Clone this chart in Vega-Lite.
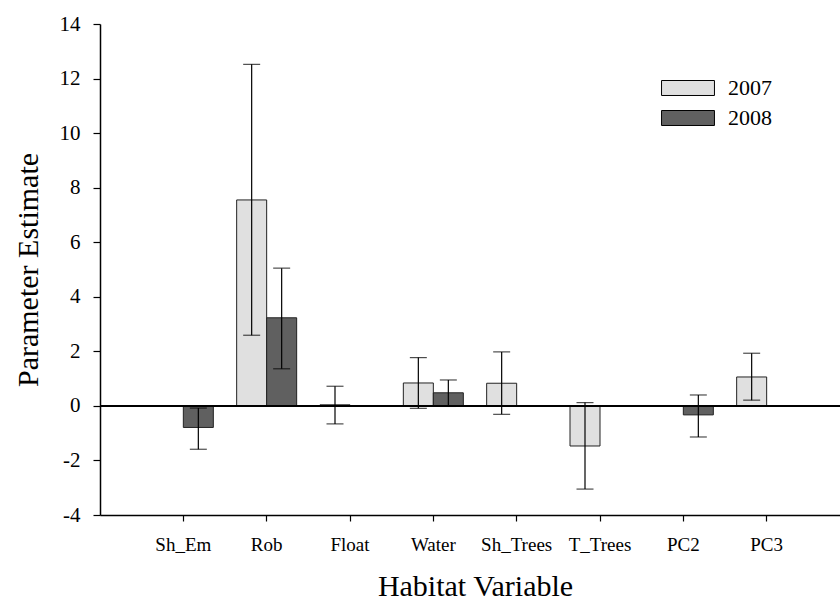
{
  "$schema": "https://vega.github.io/schema/vega-lite/v6.json",
  "width": 740,
  "height": 491,
  "autosize": {"type": "none"},
  "padding": {"left": 100, "top": 24, "right": 0, "bottom": 86},
  "background": "white",
  "config": {
    "view": {"stroke": null},
    "font": "Liberation Serif",
    "axis": {
      "labelFont": "Liberation Serif",
      "titleFont": "Liberation Serif",
      "labelColor": "black",
      "titleColor": "black",
      "domainColor": "black",
      "tickColor": "black",
      "titleFontWeight": "normal",
      "grid": false,
      "domainWidth": 1.5,
      "tickWidth": 1.2
    },
    "legend": {
      "labelFont": "Liberation Serif",
      "labelColor": "black"
    }
  },
  "data": {
    "values": [
      {"var": "Sh_Em", "year": "2008", "est": -0.79, "lo": -1.59, "hi": -0.08},
      {"var": "Rob", "year": "2007", "est": 7.55, "lo": 2.59, "hi": 12.52},
      {"var": "Rob", "year": "2008", "est": 3.23, "lo": 1.36, "hi": 5.05},
      {"var": "Float", "year": "2007", "est": 0.04, "lo": -0.66, "hi": 0.72},
      {"var": "Water", "year": "2007", "est": 0.84, "lo": -0.09, "hi": 1.77},
      {"var": "Water", "year": "2008", "est": 0.48, "lo": -0.02, "hi": 0.95},
      {"var": "Sh_Trees", "year": "2007", "est": 0.83, "lo": -0.31, "hi": 1.98},
      {"var": "T_Trees", "year": "2007", "est": -1.47, "lo": -3.05, "hi": 0.12},
      {"var": "PC2", "year": "2008", "est": -0.33, "lo": -1.14, "hi": 0.40},
      {"var": "PC3", "year": "2007", "est": 1.06, "lo": 0.21, "hi": 1.93}
    ]
  },
  "layer": [
    {
      "mark": {"type": "bar", "stroke": "#222222", "strokeWidth": 1},
      "encoding": {
        "x": {
          "field": "var", "type": "nominal",
          "sort": ["Sh_Em", "Rob", "Float", "Water", "Sh_Trees", "T_Trees", "PC2", "PC3"],
          "scale": {"domain": ["Sh_Em", "Rob", "Float", "Water", "Sh_Trees", "T_Trees", "PC2", "PC3"], "range": [0, 750], "paddingInner": 0, "paddingOuter": 0.5},
          "axis": {
            "title": "Habitat Variable",
            "titleFontSize": 30,
            "titlePadding": 17,
            "labelFontSize": 19,
            "labelAngle": 0,
            "labelPadding": 14,
            "tickSize": 6
          }
        },
        "xOffset": {
          "field": "year", "type": "nominal",
          "scale": {"domain": ["2007", "2008"], "paddingInner": 0, "paddingOuter": 0.389}
        },
        "y": {
          "field": "est", "type": "quantitative",
          "scale": {"domain": [-4, 14], "nice": false, "zero": false},
          "axis": {
            "title": "Parameter Estimate",
            "titleFontSize": 30,
            "titlePadding": 16,
            "labelFontSize": 21,
            "labelPadding": 13,
            "tickSize": 7,
            "labelExpr": "'' + datum.value",
            "values": [-4, -2, 0, 2, 4, 6, 8, 10, 12, 14]
          }
        },
        "y2": {"datum": 0},
        "color": {
          "field": "year", "type": "nominal",
          "scale": {"domain": ["2007", "2008"], "range": ["#e0e0e0", "#606060"]},
          "legend": {
            "title": null,
            "orient": "none",
            "legendX": 577,
            "legendY": 53,
            "padding": 0,
            "symbolType": "M-2.52,-0.714H2.52V0.714H-2.52Z",
            "symbolSize": 441,
            "symbolStrokeColor": "black",
            "symbolStrokeWidth": 1,
            "labelFontSize": 22,
            "labelOffset": 29,
            "rowPadding": 8
          }
        }
      }
    },
    {
      "mark": {"type": "rule", "color": "black", "strokeWidth": 1.5},
      "encoding": {"y": {"datum": 0}}
    },
    {
      "mark": {"type": "rule", "color": "black", "strokeWidth": 1.2},
      "encoding": {
        "x": {"field": "var", "type": "nominal"},
        "xOffset": {"field": "year", "type": "nominal"},
        "y": {"field": "lo", "type": "quantitative"},
        "y2": {"field": "hi"}
      }
    },
    {
      "mark": {"type": "tick", "color": "black", "size": 17, "thickness": 1.2, "orient": "horizontal"},
      "encoding": {
        "x": {"field": "var", "type": "nominal"},
        "xOffset": {"field": "year", "type": "nominal"},
        "y": {"field": "lo", "type": "quantitative"}
      }
    },
    {
      "mark": {"type": "tick", "color": "black", "size": 17, "thickness": 1.2, "orient": "horizontal"},
      "encoding": {
        "x": {"field": "var", "type": "nominal"},
        "xOffset": {"field": "year", "type": "nominal"},
        "y": {"field": "hi", "type": "quantitative"}
      }
    }
  ]
}
